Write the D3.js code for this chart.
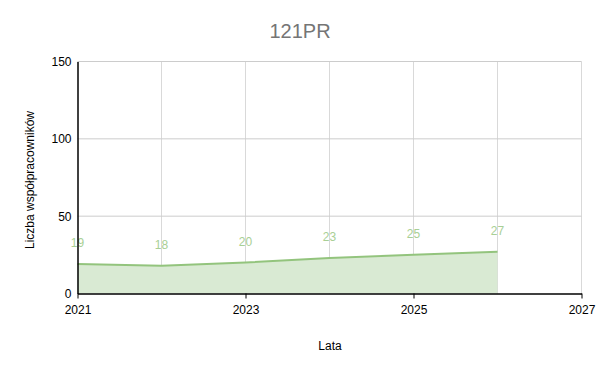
<!DOCTYPE html>
<html>
<head>
<meta charset="utf-8">
<script src="https://cdn.jsdelivr.net/npm/d3@7"></script>
<style>
  body { margin: 0; background: #fff; }
  text { font-family: "Liberation Sans", Arial, sans-serif; }
</style>
</head>
<body>
<script>
const years = [2021, 2022, 2023, 2024, 2025, 2026];
const workers = [19, 18, 20, 23, 25, 27];
const xTicks = [2021, 2023, 2025, 2027];
const yTicks = [0, 50, 100, 150];

const width = 600, height = 371;
const m = { left: 77.5, right: 18.5, top: 61.5, bottom: 77.5 };

const svg = d3.select('body').append('svg')
  .attr('width', width).attr('height', height);

const x = d3.scaleLinear().domain([2021, 2027]).range([m.left, width - m.right]);
const y = d3.scaleLinear().domain([0, 150]).range([height - m.bottom, m.top]);

// gridlines
svg.append('g').selectAll('line.v')
  .data(d3.range(2022, 2028))
  .enter().append('line')
  .attr('x1', d => x(d)).attr('x2', d => x(d))
  .attr('y1', y(0)).attr('y2', y(150))
  .attr('stroke', '#d9d9d9').attr('stroke-width', 1);

svg.append('g').selectAll('line.h')
  .data(yTicks.slice(1))
  .enter().append('line')
  .attr('x1', x(2021)).attr('x2', x(2027))
  .attr('y1', d => y(d)).attr('y2', d => y(d))
  .attr('stroke', '#cccccc').attr('stroke-width', 1);

const pts = years.map((yr, i) => ({ yr, v: workers[i] }));

// area + line
svg.append('path')
  .datum(pts)
  .attr('d', d3.area().x(d => x(d.yr)).y0(y(0)).y1(d => y(d.v)))
  .attr('fill', '#d9ead3');

svg.append('path')
  .datum(pts)
  .attr('d', d3.line().x(d => x(d.yr)).y(d => y(d.v)))
  .attr('fill', 'none')
  .attr('stroke', '#93c47d')
  .attr('stroke-width', 2);

// data labels
svg.append('g').selectAll('text')
  .data(pts)
  .enter().append('text')
  .attr('x', d => x(d.yr))
  .attr('y', d => y(d.v) - 17)
  .attr('text-anchor', 'middle')
  .attr('font-size', 12)
  .attr('fill', '#a8cf95')
  .text(d => d.v);

// axes
const axisX = d3.axisBottom(x).tickValues(xTicks).tickFormat(d3.format('d')).tickSize(5).tickSizeOuter(0);
const gx = svg.append('g').attr('transform', `translate(0, ${y(0)})`).call(axisX);
gx.select('.domain').attr('stroke', '#000').attr('stroke-width', 1.5);
gx.selectAll('.tick line').attr('stroke', '#000');
gx.selectAll('.tick text').attr('font-size', 12).attr('fill', '#000').attr('dy', '1.05em')
  .style('font-family', '"Liberation Sans", Arial, sans-serif');

const axisY = d3.axisLeft(y).tickValues(yTicks).tickSize(0).tickPadding(6);
const gy = svg.append('g').attr('transform', `translate(${x(2021)}, 0)`).call(axisY);
gy.select('.domain').attr('stroke', '#000').attr('stroke-width', 1.5);
gy.selectAll('.tick text').attr('font-size', 12).attr('fill', '#000')
  .style('font-family', '"Liberation Sans", Arial, sans-serif');

// titles
svg.append('text')
  .attr('x', width / 2).attr('y', 38)
  .attr('text-anchor', 'middle')
  .attr('font-size', 20)
  .attr('fill', '#757575')
  .text('121PR');

svg.append('text')
  .attr('x', 330).attr('y', 350)
  .attr('text-anchor', 'middle')
  .attr('font-size', 12)
  .attr('fill', '#000')
  .text('Lata');

svg.append('text')
  .attr('transform', `translate(34, 180) rotate(-90)`)
  .attr('text-anchor', 'middle')
  .attr('font-size', 12)
  .attr('fill', '#000')
  .text('Liczba współpracowników');
</script>
</body>
</html>
